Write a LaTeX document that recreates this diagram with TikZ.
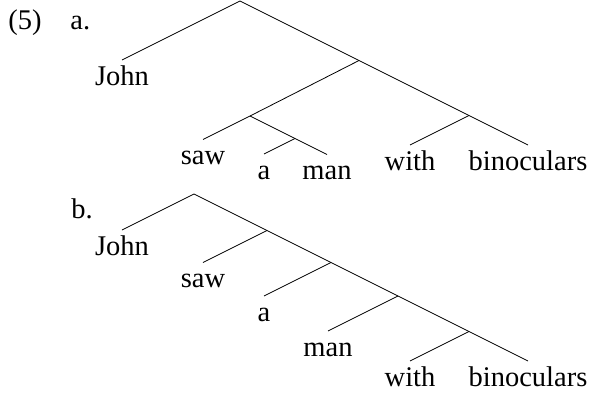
\documentclass[tikz,border=0pt]{standalone}
\usepackage{fontspec}
\setmainfont{Liberation Serif}
\usetikzlibrary{positioning}
\tikzset{
	leaf/.style={anchor=north, inner sep=0pt, text height=12.5pt, text depth=0pt},
	exnum/.style={anchor=base west, inner sep=0pt}
}

\begin{document}
\begin{tikzpicture}[x=0.5pt, y=-0.5pt, every node/.style={font=\fontsize{14.25}{17}\selectfont}]
	\useasboundingbox (0,0) rectangle (592,392);
	\node[exnum] (num) at (8,29) {(5)};
	% tree a
	\node[exnum] (labA) at (70,29) {a.};
	\coordinate (aRoot) at (240,1);
	\coordinate (aVP) at (359,60.5);
	\coordinate (aV) at (250,116);
	\coordinate (aNP) at (295,138.5);
	\coordinate (aPP) at (469,115.5);
	\node[leaf] (aJohn) at (122,60) {John};
	\node[leaf] (aSaw) at (203,139.5) {saw};
	\node[leaf] (aA) at (264,154) {a};
	\node[leaf] (aMan) at (327,154.5) {man};
	\node[leaf] (aWith) at (410,145) {with};
	\node[leaf] (aBin) at (528,145) {binoculars};
	\draw (aJohn.north) -- (aRoot) -- (aVP) -- (aPP) -- (aBin.north);
	\draw (aVP) -- (aV) -- (aSaw.north);
	\draw (aV) -- (aNP) -- (aMan.north);
	\draw (aNP) -- (aA.north);
	\draw (aPP) -- (aWith.north);
	% tree b
	\node[exnum] (labB) at (71,218) {b.};
	\coordinate (bRoot) at (194,194);
	\coordinate (bN1) at (267,230.5);
	\coordinate (bN2) at (331,262.5);
	\coordinate (bN3) at (398,296);
	\coordinate (bN4) at (469,331.5);
	\node[leaf] (bJohn) at (122,230) {John};
	\node[leaf] (bSaw) at (203,262.5) {saw};
	\node[leaf] (bA) at (264,296) {a};
	\node[leaf] (bMan) at (328,331) {man};
	\node[leaf] (bWith) at (410,361) {with};
	\node[leaf] (bBin) at (528,361) {binoculars};
	\draw (bJohn.north) -- (bRoot) -- (bN1) -- (bN2) -- (bN3) -- (bN4) -- (bBin.north);
	\draw (bN1) -- (bSaw.north);
	\draw (bN2) -- (bA.north);
	\draw (bN3) -- (bMan.north);
	\draw (bN4) -- (bWith.north);
\end{tikzpicture}
\end{document}
